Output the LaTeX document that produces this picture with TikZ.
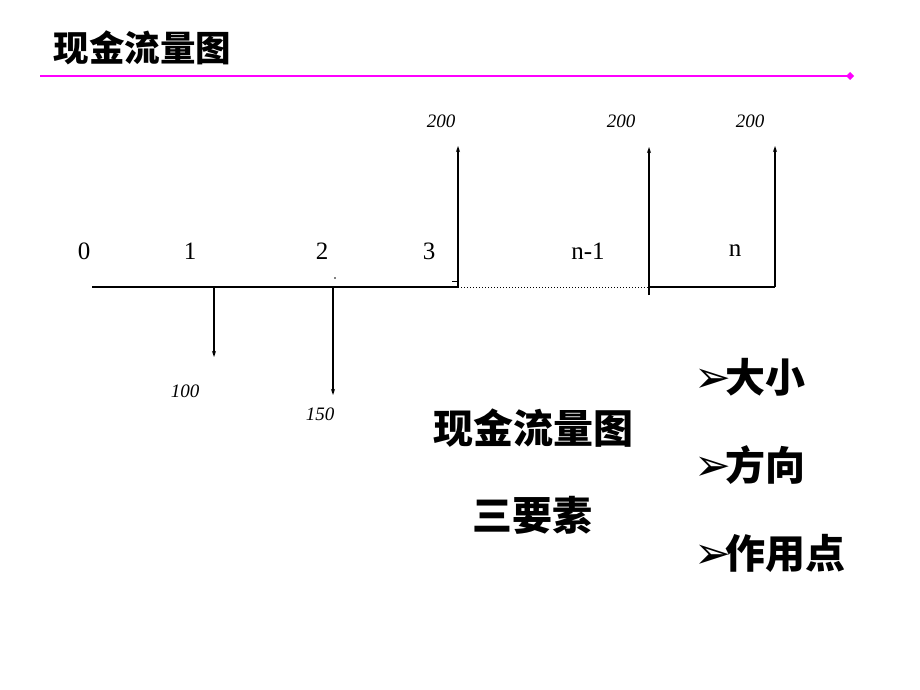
\documentclass[tikz,border=0pt]{standalone}
\usepackage{fontspec}
\setmainfont{Liberation Serif}
\newfontfamily\cjk{Noto Sans CJK SC}
\newfontfamily\dingfont{DejaVu Sans}
\usetikzlibrary{arrows.meta}
\tikzset{>=stealth}
\definecolor{barpink}{RGB}{255,0,255}

\begin{document}
\begin{tikzpicture}[x=1pt,y=-1pt,
    period/.style={font=\fontsize{25}{25}\selectfont},
    amount/.style={font=\fontsize{19}{19}\selectfont\itshape},
    bigcjk/.style={font=\cjk\bfseries\fontsize{40}{40}\selectfont},
    cash/.style={-{Stealth[length=6pt,width=4pt]},line width=1.3pt},
    axis/.style={line width=1.8pt}]
    \useasboundingbox (0,0) rectangle (920,690);
    % title and bar
    \node[anchor=west,font=\cjk\bfseries\fontsize{35.5}{35.5}\selectfont] (title) at (50,48) {现金流量图};
    \coordinate (barL) at (40,76);
    \coordinate (barR) at (850,76);
    \draw[barpink,line width=2.6pt] (barL) -- (barR);
    \fill[barpink] (barR) ++(-4,0) -- ++(4,-4) -- ++(4,4) -- ++(-4,4) -- cycle;
    % time axis
    \coordinate (p0) at (92,287);
    \coordinate (p1) at (214,287);
    \coordinate (p2) at (333,287);
    \coordinate (p3) at (458,287);
    \coordinate (pm) at (649,287);
    \coordinate (pn) at (775,287);
    \draw[axis] (p0) -- (p3);
    \draw[line width=1pt,dotted] (p3) -- (pm);
    \draw[axis] (pm) -- (pn);
    \draw[line width=1pt] (452,281) -- (458,281);
    \fill (335,278) circle (0.8);
    % cash flows
    \coordinate (d1) at (214,357);
    \coordinate (d2) at (333,395);
    \coordinate (u3) at (458,146);
    \coordinate (um) at (649,147);
    \coordinate (un) at (775,146);
    \coordinate (pmb) at (649,295);
    \draw[cash] (p1) -- (d1);
    \draw[cash] (p2) -- (d2);
    \draw[cash] (p3) -- (u3);
    \draw[cash] (pmb) -- (um);
    \draw[cash] (pn) -- (un);
    % labels
    \node[period] (t0) at (84,251) {0};
    \node[period] (t1) at (190,251) {1};
    \node[period] (t2) at (322,251) {2};
    \node[period] (t3) at (429,251) {3};
    \node[period] (tm) at (588,251) {n-1};
    \node[period] (tn) at (735,251) {n};
    \node[amount] (a3) at (441,121) {200};
    \node[amount] (am) at (621,121) {200};
    \node[amount] (an) at (750,121) {200};
    \node[amount] (a1) at (185,391) {100};
    \node[amount] (a2) at (320,414) {150};
    % three elements
    \node[bigcjk] (head) at (533,428) {现金流量图};
    \node[bigcjk] (three) at (532,515) {三要素};
    \foreach \y/\txt [count=\k] in {377/大小,465/方向,553/作用点}
        \node[anchor=west,bigcjk,inner sep=0pt] (item\k) at (694,\y)
            {\raisebox{0pt}{\dingfont\fontsize{44}{44}\selectfont ➢}\kern-6pt\txt};
\end{tikzpicture}
\end{document}
